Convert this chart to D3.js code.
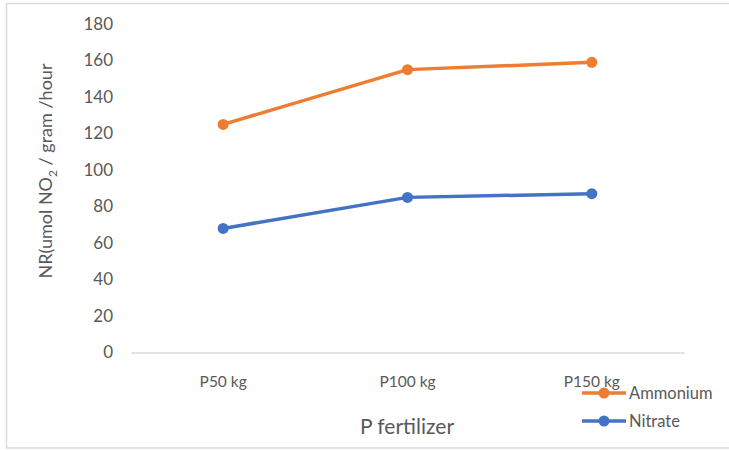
<!doctype html>
<html>
<head>
<script src="https://cdnjs.cloudflare.com/ajax/libs/d3/7.8.5/d3.min.js"></script>
<style>
  body { margin: 0; background: #fff; }
  text { font-family: "Lato", sans-serif; fill: #595959; }
</style>
</head>
<body>
<svg id="chart" width="729" height="450"></svg>
<script>
var categories = ["P50 kg", "P100 kg", "P150 kg"];
var ammonium = [125, 155, 159];
var nitrate = [68, 85, 87];
var yTicks = [0, 20, 40, 60, 80, 100, 120, 140, 160, 180];
var seriesNames = ["Ammonium", "Nitrate"];
var colors = ["#ED7D31", "#4472C4"];

var svg = d3.select("#chart");

// outer frame
svg.append("rect")
    .attr("x", 6.5).attr("y", 3.5)
    .attr("width", 740).attr("height", 444.5)
    .attr("fill", "none").attr("stroke", "#d9d9d9").attr("stroke-width", 1.5);

var x = d3.scaleBand().domain(categories).range([131, 684]);
var y = d3.scaleLinear().domain([0, 180]).range([352.5, 24]);

// y labels (no axis line)
var yAxis = d3.axisLeft(y).tickValues(yTicks).tickSize(0).tickPadding(0);
var gy = svg.append("g").attr("transform", "translate(113,0)").call(yAxis);
gy.select(".domain").remove();
gy.selectAll("text").style("font-size", "17px").attr("fill", "#595959");

// x axis
var xAxis = d3.axisBottom(x).tickSize(0).tickPadding(23);
var gx = svg.append("g").attr("transform", "translate(0," + y(0) + ")").call(xAxis);
gx.select(".domain").attr("stroke", "#d9d9d9").attr("stroke-width", 1.5);
gx.selectAll("text").style("font-size", "15.5px").attr("fill", "#595959");

var line = d3.line()
    .x(function(d, i) { return x(categories[i]) + x.bandwidth() / 2; })
    .y(function(d) { return y(d); });

[ammonium, nitrate].forEach(function(vals, k) {
  svg.append("path").datum(vals)
      .attr("d", line)
      .attr("fill", "none")
      .attr("stroke", colors[k])
      .attr("stroke-width", 3.5)
      .attr("stroke-linejoin", "round");
  svg.selectAll(".pt" + k).data(vals).enter()
    .append("circle")
      .attr("cx", function(d, i) { return x(categories[i]) + x.bandwidth() / 2; })
      .attr("cy", function(d) { return y(d); })
      .attr("r", 5.5)
      .attr("fill", colors[k]);
});

// axis titles
svg.append("text")
    .attr("transform", "translate(52,171) rotate(-90)")
    .attr("text-anchor", "middle")
    .style("font-size", "18px")
    .html('NR(umol NO<tspan dy="5" style="font-size:12px">2</tspan><tspan dy="-5"> / gram /hour</tspan>');

svg.append("text")
    .attr("x", 407).attr("y", 434)
    .attr("text-anchor", "middle")
    .style("font-size", "21px")
    .text("P fertilizer");

// legend
var legend = svg.selectAll(".legend").data(seriesNames).enter()
  .append("g")
    .attr("transform", function(d, i) { return "translate(582," + (393 + i * 28) + ")"; });
legend.append("line")
    .attr("x1", 0).attr("x2", 44)
    .attr("stroke", function(d, i) { return colors[i]; })
    .attr("stroke-width", 3.5);
legend.append("circle")
    .attr("cx", 22).attr("r", 5.5)
    .attr("fill", function(d, i) { return colors[i]; });
legend.append("text")
    .attr("x", 47).attr("y", 6)
    .style("font-size", "16.5px")
    .text(function(d) { return d; });
</script>
</body>
</html>
